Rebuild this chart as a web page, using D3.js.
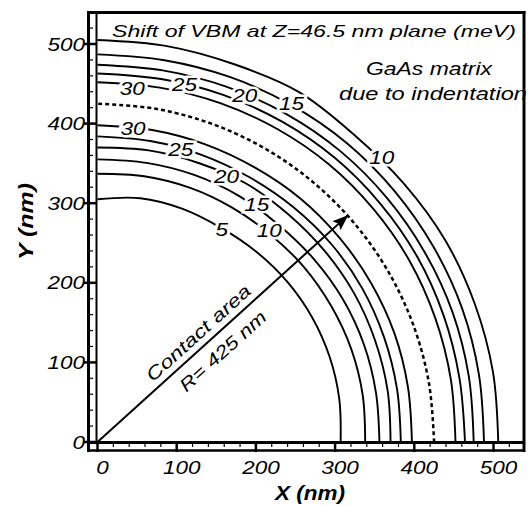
<!DOCTYPE html>
<html>
<head>
<meta charset="utf-8">
<script src="https://cdn.jsdelivr.net/npm/d3@7/dist/d3.min.js"></script>
<style>
body { margin: 0; background: #fff; }
text { font-family: "Liberation Sans", Arial, sans-serif; font-style: italic; fill: #000; }
</style>
</head>
<body>
<div id="chart"></div>
<script>
(function(){
	var width = 528, height = 506;

	// contour radii (nm) read at these polar angles (deg, from the X axis)
	var angles = [0, 10, 20, 30, 40, 50, 60, 70, 80, 90];

	var innerLevels = [5, 10, 15, 20, 25, 30];
	var innerRadii = [
		[307, 310, 312, 313, 313, 312, 311, 312, 311, 305],
		[338, 340, 341, 341, 341, 340, 340, 340, 339, 337],
		[356, 357, 358, 358, 357, 356, 357, 357, 356, 355],
		[370, 372, 373, 374, 374, 374, 375, 373, 372, 370],
		[383, 384, 385, 386, 386, 385, 384, 384, 384, 384],
		[397, 398, 399, 399, 399, 399, 398, 398, 398, 398]
	];
	var outerLevels = [30, 25, 20, 15, 10];
	var outerRadii = [
		[452, 453, 454, 455, 455, 455, 454, 453, 452, 452],
		[464, 464, 465, 466, 466, 466, 465, 464, 463, 463],
		[475, 476, 477, 477, 477, 477, 476, 475, 474, 474],
		[488, 489, 490, 490, 490, 490, 489, 488, 487, 487],
		[506, 507, 507, 507, 505, 504, 508, 505, 505, 505]
	];
	var contactRadius = 425;
	var arrowAngle = 42;

	// contour labels (nm positions)
	var labelText = ["30", "25", "20", "15", "10", "30", "25", "20", "15", "10", "5"];
	var labelX = [44, 110, 186, 245, 359, 45, 105, 163, 201, 217, 157];
	var labelY = [444, 449, 435, 425, 358, 394, 367, 334, 298, 266, 267];

	var xTicks = [0, 100, 200, 300, 400, 500];
	var yTicks = [0, 100, 200, 300, 400, 500];

	var x = d3.scaleLinear().domain([0, 500]).range([97.5, 493.5]);
	var y = d3.scaleLinear().domain([0, 500]).range([442, 44]);

	var svg = d3.select("#chart")
		.append("svg")
		.attr("width", width)
		.attr("height", height);

	var defs = svg.append("defs");
	defs.append("marker")
		.attr("id", "head")
		.attr("markerUnits", "userSpaceOnUse")
		.attr("viewBox", "0 0 16 12")
		.attr("refX", 15)
		.attr("refY", 6)
		.attr("markerWidth", 16)
		.attr("markerHeight", 12)
		.attr("orient", "auto")
		.append("path")
		.attr("d", "M0,0 L16,6 L0,12 L3,6 Z")
		.attr("fill", "#000");

	function toPoints(radii){
		return angles.map(function(a, i){
			var t = a * Math.PI / 180;
			return [radii[i] * Math.cos(t), radii[i] * Math.sin(t)];
		});
	}

	var line = d3.line()
		.x(function(d){ return x(d[0]); })
		.y(function(d){ return y(d[1]); })
		.curve(d3.curveCatmullRom);

	var contours = svg.append("g")
		.attr("fill", "none")
		.attr("stroke", "#000")
		.attr("stroke-width", 1.9);

	contours.selectAll(".inner")
		.data(innerRadii)
		.enter().append("path")
		.attr("class", "inner")
		.attr("d", function(d){ return line(toPoints(d)); });

	contours.selectAll(".outer")
		.data(outerRadii)
		.enter().append("path")
		.attr("class", "outer")
		.attr("d", function(d){ return line(toPoints(d)); });

	contours.append("path")
		.attr("d", line(toPoints(angles.map(function(){ return contactRadius; }))))
		.attr("stroke-width", 2.5)
		.attr("stroke-dasharray", "4,3");

	// arrow for the contact radius
	var t = arrowAngle * Math.PI / 180;
	var tipX = x(contactRadius * Math.cos(t)), tipY = y(contactRadius * Math.sin(t));
	svg.append("line")
		.attr("x1", x(0)).attr("y1", y(0))
		.attr("x2", tipX).attr("y2", tipY)
		.attr("stroke", "#000")
		.attr("stroke-width", 2)
		.attr("marker-end", "url(#head)");

	var rot = Math.atan2(y(0) - tipY, tipX - x(0)) * 180 / Math.PI;
	var ag = svg.append("g")
		.attr("transform", "translate(" + x(0) + "," + y(0) + ") rotate(" + (-rot) + ")");
	ag.append("text")
		.attr("x", 148).attr("y", -7)
		.attr("text-anchor", "middle")
		.style("font-size", "18px")
		.attr("textLength", 134)
		.attr("lengthAdjust", "spacingAndGlyphs")
		.text("Contact area");
	ag.append("text")
		.attr("x", 154).attr("y", 23)
		.attr("text-anchor", "middle")
		.style("font-size", "18px")
		.attr("textLength", 110)
		.attr("lengthAdjust", "spacingAndGlyphs")
		.text("R= 425 nm");

	// contour labels with white knock-out
	svg.selectAll(".clabel")
		.data(labelText)
		.enter().append("text")
		.attr("class", "clabel")
		.attr("x", function(d, i){ return x(labelX[i]); })
		.attr("y", function(d, i){ return y(labelY[i]); })
		.attr("dy", "0.36em")
		.attr("text-anchor", "middle")
		.style("font-size", "18px")
		.attr("textLength", function(d){ return d.length * 12.5; })
		.attr("lengthAdjust", "spacingAndGlyphs")
		.attr("stroke", "#fff")
		.attr("stroke-width", 5)
		.attr("paint-order", "stroke")
		.text(function(d){ return d; });

	// texts
	svg.append("text")
		.attr("x", 112).attr("y", 37)
		.style("font-size", "17px")
		.attr("textLength", 404)
		.attr("lengthAdjust", "spacingAndGlyphs")
		.text("Shift of VBM at Z=46.5 nm plane (meV)");
	svg.append("text")
		.attr("x", 366).attr("y", 75)
		.style("font-size", "18px")
		.attr("textLength", 126)
		.attr("lengthAdjust", "spacingAndGlyphs")
		.text("GaAs matrix");
	svg.append("text")
		.attr("x", 339).attr("y", 100)
		.style("font-size", "18px")
		.attr("textLength", 188)
		.attr("lengthAdjust", "spacingAndGlyphs")
		.text("due to indentation");

	// frame and axis bars
	var frame = svg.append("g").attr("stroke", "#000").attr("fill", "none");
	frame.append("line").attr("x1", 87).attr("x2", 525.5).attr("y1", 12.5).attr("y2", 12.5).attr("stroke-width", 3);
	frame.append("line").attr("x1", 524).attr("x2", 524).attr("y1", 11).attr("y2", 452).attr("stroke-width", 3);
	frame.append("line").attr("x1", 88.5).attr("x2", 88.5).attr("y1", 11).attr("y2", 452).attr("stroke-width", 3);
	frame.append("line").attr("x1", 96.5).attr("x2", 96.5).attr("y1", 12).attr("y2", 443).attr("stroke-width", 2);
	frame.append("line").attr("x1", 87).attr("x2", 525).attr("y1", 442.5).attr("y2", 442.5).attr("stroke-width", 3);
	frame.append("line").attr("x1", 87).attr("x2", 525).attr("y1", 450.5).attr("y2", 450.5).attr("stroke-width", 2.5);

	var minor = d3.range(20, 540, 20).filter(function(v){ return v % 100 !== 0; });
	frame.selectAll(".xminor")
		.data(minor)
		.enter().append("line")
		.attr("x1", function(d){ return x(d); }).attr("x2", function(d){ return x(d); })
		.attr("y1", 443).attr("y2", 447)
		.attr("stroke-width", 1.2);
	frame.selectAll(".yminor")
		.data(minor)
		.enter().append("line")
		.attr("y1", function(d){ return y(d); }).attr("y2", function(d){ return y(d); })
		.attr("x1", 89).attr("x2", 93)
		.attr("stroke-width", 1.2);
	frame.selectAll(".xmajor")
		.data(xTicks)
		.enter().append("line")
		.attr("x1", function(d){ return x(d); }).attr("x2", function(d){ return x(d); })
		.attr("y1", 442).attr("y2", 452)
		.attr("stroke-width", 2.5);
	frame.selectAll(".ymajor")
		.data(yTicks)
		.enter().append("line")
		.attr("y1", function(d){ return y(d); }).attr("y2", function(d){ return y(d); })
		.attr("x1", 84).attr("x2", 97)
		.attr("stroke-width", 2.5);

	// tick labels
	svg.selectAll(".xlab")
		.data(xTicks)
		.enter().append("text")
		.attr("x", function(d){ return x(d) + 5; })
		.attr("y", 474)
		.attr("text-anchor", "middle")
		.attr("font-style", "italic")
		.style("font-style", "italic")
		.style("font-weight", "normal")
		.style("font-size", "19px")
		.attr("textLength", function(d){ return String(d).length * 12.5; })
		.attr("lengthAdjust", "spacingAndGlyphs")
		.text(function(d){ return d; });
	svg.selectAll(".ylab")
		.data(yTicks)
		.enter().append("text")
		.attr("x", 85)
		.attr("y", function(d){ return y(d) + 6.5; })
		.attr("text-anchor", "end")
		.style("font-style", "italic")
		.style("font-weight", "normal")
		.style("font-size", "19px")
		.attr("textLength", function(d){ return String(d).length * 12.5; })
		.attr("lengthAdjust", "spacingAndGlyphs")
		.text(function(d){ return d; });

	// axis titles
	svg.append("text")
		.attr("x", 275).attr("y", 500)
		.style("font-size", "20px")
		.style("font-weight", "bold")
		.attr("textLength", 70)
		.attr("lengthAdjust", "spacingAndGlyphs")
		.text("X (nm)");
	svg.append("text")
		.attr("transform", "translate(33,260) rotate(-90)")
		.style("font-size", "20px")
		.style("font-weight", "bold")
		.attr("textLength", 77)
		.attr("lengthAdjust", "spacingAndGlyphs")
		.text("Y (nm)");
})();
</script>
</body>
</html>
